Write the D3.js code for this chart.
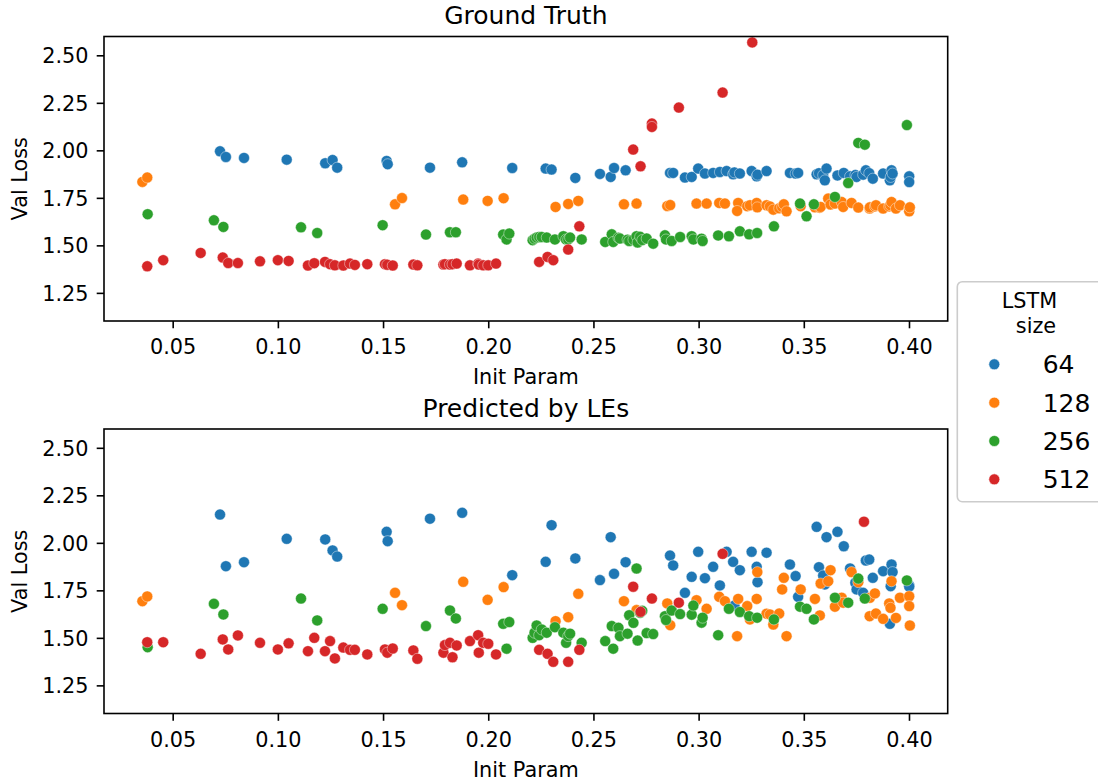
<!DOCTYPE html>
<html>
<head>
<meta charset="utf-8">
<script src="https://cdn.jsdelivr.net/npm/d3@7"></script>
<style>
  html, body { margin: 0; padding: 0; background: #ffffff; }
  svg { display: block; font-family: "DejaVu Sans", sans-serif; }
</style>
</head>
<body>
<svg id="chart" width="1098" height="780"></svg>
<script>
// ---- data: validation loss per run, ground truth vs. predicted, by LSTM size ----
const lstmSizes = ["64", "128", "256", "512"];
const xTicks = [0.05, 0.10, 0.15, 0.20, 0.25, 0.30, 0.35, 0.40];
const yTicks = [1.25, 1.50, 1.75, 2.00, 2.25, 2.50];

// LSTM size 64
const initParam64 = [0.0725,0.0753,0.0839,0.1042,0.1225,0.1260,0.1282,0.1517,0.1522,0.1723,0.1876,0.2114,0.2273,0.2301,0.2414,0.2531,0.2582,0.2598,0.2653,0.2864,0.2879,0.2935,0.2967,0.2998,0.3030,0.3069,0.3101,0.3133,0.3164,0.3170,0.3196,0.3252,0.3276,0.3280,0.3323,0.3434,0.3461,0.3473,0.3561,0.3572,0.3592,0.3600,0.3608,0.3660,0.3690,0.3720,0.3745,0.3751,0.3782,0.3795,0.3811,0.3828,0.3877,0.3909,0.3913,0.3917,0.3922,0.4001,0.4001];
const truth64 = [1.995,1.965,1.960,1.951,1.932,1.949,1.909,1.944,1.927,1.909,1.937,1.907,1.904,1.899,1.855,1.876,1.860,1.907,1.895,1.881,1.881,1.857,1.860,1.904,1.878,1.881,1.886,1.891,1.874,1.884,1.878,1.891,1.863,1.872,1.891,1.881,1.878,1.881,1.874,1.880,1.870,1.842,1.904,1.868,1.881,1.863,1.870,1.860,1.872,1.895,1.880,1.851,1.878,1.842,1.860,1.895,1.878,1.863,1.833];
const pred64 = [2.149,1.877,1.898,2.021,2.018,1.960,1.928,2.058,2.009,2.127,2.158,1.830,1.900,2.093,1.918,1.804,2.030,1.837,1.898,1.933,1.881,1.737,1.821,1.953,1.814,1.874,1.776,1.953,1.900,1.670,1.856,1.953,1.874,1.793,1.948,1.886,1.825,1.716,2.084,1.872,1.828,1.781,2.030,2.058,1.982,1.865,1.790,1.755,1.737,1.907,1.912,1.816,1.851,1.574,1.772,1.886,1.846,1.776,1.770];

// LSTM size 128
const initParam128 = [0.0356,0.0379,0.1557,0.1590,0.1881,0.1997,0.2073,0.2320,0.2380,0.2428,0.2645,0.2705,0.2851,0.2865,0.2990,0.3038,0.3098,0.3125,0.3188,0.3183,0.3231,0.3244,0.3276,0.3279,0.3323,0.3339,0.3355,0.3383,0.3397,0.3405,0.3418,0.3485,0.3553,0.3576,0.3580,0.3616,0.3627,0.3648,0.3680,0.3687,0.3727,0.3759,0.3813,0.3814,0.3838,0.3843,0.3877,0.3906,0.3912,0.3917,0.3938,0.3957,0.4001,0.4001,0.4004];
const truth128 = [1.834,1.857,1.716,1.749,1.741,1.734,1.748,1.702,1.718,1.734,1.716,1.720,1.707,1.712,1.720,1.720,1.723,1.720,1.723,1.681,1.706,1.711,1.723,1.700,1.711,1.705,1.688,1.695,1.702,1.716,1.679,1.706,1.700,1.698,1.702,1.746,1.715,1.720,1.728,1.702,1.723,1.699,1.694,1.700,1.705,1.711,1.694,1.705,1.711,1.728,1.694,1.711,1.694,1.679,1.700];
const pred128 = [1.693,1.718,1.737,1.672,1.795,1.700,1.767,1.588,1.609,1.732,1.693,1.646,1.681,1.567,1.698,1.653,1.716,1.693,1.705,1.509,1.667,1.597,1.705,1.846,1.627,1.623,1.570,1.628,1.755,1.816,1.509,1.755,1.705,1.618,1.786,1.798,1.856,1.664,1.711,1.685,1.846,1.793,1.614,1.711,1.734,1.628,1.600,1.681,1.658,1.798,1.605,1.711,1.719,1.667,1.565];

// LSTM size 256
const initParam256 = [0.0381,0.0696,0.0741,0.1110,0.1187,0.1498,0.1704,0.1818,0.1846,0.2071,0.2087,0.2100,0.2211,0.2220,0.2230,0.2242,0.2254,0.2278,0.2317,0.2357,0.2370,0.2380,0.2389,0.2444,0.2556,0.2587,0.2594,0.2619,0.2626,0.2662,0.2670,0.2690,0.2705,0.2710,0.2722,0.2732,0.2753,0.2784,0.2840,0.2845,0.2872,0.2912,0.2967,0.2975,0.3014,0.3019,0.3093,0.3144,0.3196,0.3240,0.3278,0.3358,0.3482,0.3513,0.3548,0.3648,0.3711,0.3759,0.3790,0.3990];
const truth256 = [1.664,1.632,1.597,1.595,1.565,1.606,1.557,1.569,1.569,1.557,1.531,1.562,1.527,1.535,1.541,1.544,1.544,1.541,1.531,1.548,1.531,1.531,1.541,1.531,1.518,1.558,1.518,1.540,1.536,1.530,1.523,1.530,1.548,1.515,1.545,1.528,1.536,1.509,1.553,1.531,1.523,1.544,1.548,1.531,1.535,1.523,1.552,1.548,1.574,1.558,1.565,1.600,1.720,1.653,1.716,1.755,1.828,2.039,2.030,2.133];
const pred256 = [1.451,1.679,1.623,1.707,1.592,1.653,1.562,1.644,1.602,1.574,1.443,1.583,1.500,1.527,1.565,1.514,1.544,1.527,1.556,1.527,1.474,1.509,1.522,1.474,1.483,1.562,1.443,1.553,1.509,1.522,1.619,1.579,1.865,1.486,1.632,1.642,1.525,1.520,1.614,1.594,1.644,1.625,1.622,1.670,1.580,1.606,1.514,1.653,1.636,1.614,1.606,1.597,1.664,1.653,1.597,1.711,1.685,1.812,1.707,1.802];

// LSTM size 512 (null: no visible point in that panel)
const initParam512 = [0.0379,0.0455,0.0633,0.0738,0.0764,0.0810,0.0915,0.1000,0.1051,0.1143,0.1173,0.1224,0.1248,0.1271,0.1311,0.1343,0.1366,0.1425,0.1509,0.1520,0.1546,0.1644,0.1663,0.1787,0.1794,0.1818,0.1830,0.1850,0.1913,0.1952,0.1955,0.1976,0.2000,0.2037,0.2242,0.2282,0.2309,0.2380,0.2433,0.2689,0.2724,0.2778,0.2778,0.2906,0.3114,0.3255,0.3786];
const truth512 = [1.390,1.422,1.460,1.436,1.407,1.407,1.416,1.422,1.418,1.394,1.406,1.413,1.401,1.395,1.394,1.404,1.397,1.401,1.401,1.398,1.394,1.399,1.395,1.399,1.401,1.399,1.401,1.404,1.395,1.404,1.399,1.395,1.395,1.404,1.413,1.439,1.422,1.478,1.600,2.004,1.916,2.141,2.123,2.225,2.304,2.568,null];
const pred512 = [1.477,1.477,1.416,1.492,1.439,1.513,1.474,1.439,1.471,1.430,1.500,1.430,1.483,1.392,1.449,1.437,1.437,1.413,1.439,1.422,1.444,1.434,1.390,1.422,1.462,1.474,1.398,1.460,1.483,1.514,1.422,1.474,1.469,1.413,1.437,1.416,1.374,1.374,1.437,1.769,1.637,1.707,null,1.685,1.942,null,2.111];

// ---- styling / layout ----
const palette = ["#1f77b4", "#ff7f0e", "#2ca02c", "#d62728"];
const series = [
  { x: initParam64,  truth: truth64,  pred: pred64 },
  { x: initParam128, truth: truth128, pred: pred128 },
  { x: initParam256, truth: truth256, pred: pred256 },
  { x: initParam512, truth: truth512, pred: pred512 }
];

const plotLeft = 104, plotWidth = 843.7, plotHeight = 284.5;
const panels = [
  { title: "Ground Truth",     top: 36.5, key: "truth" },
  { title: "Predicted by LEs", top: 429,  key: "pred" }
];

const svg = d3.select("#chart");

const x = d3.scaleLinear().domain([0.01735, 0.4184]).range([plotLeft, plotLeft + plotWidth]);

panels.forEach(panel => {
  const y = d3.scaleLinear().domain([1.102, 2.599]).range([panel.top + plotHeight, panel.top]);
  const g = svg.append("g");

  // points, one layer per LSTM size
  series.forEach((s, i) => {
    const pts = s.x.map((v, j) => ({ x: v, y: s[panel.key][j] })).filter(d => d.y != null);
    g.append("g").selectAll("circle").data(pts).join("circle")
      .attr("cx", d => x(d.x))
      .attr("cy", d => y(d.y))
      .attr("r", 5.5)
      .attr("fill", palette[i])
      .attr("stroke", "#ffffff")
      .attr("stroke-opacity", 0.7)
      .attr("stroke-width", 0.6);
  });

  // frame
  g.append("rect")
    .attr("x", plotLeft).attr("y", panel.top)
    .attr("width", plotWidth).attr("height", plotHeight)
    .attr("fill", "none").attr("stroke", "#000").attr("stroke-width", 1.6);

  // x axis
  const xa = g.append("g")
    .attr("transform", `translate(0,${panel.top + plotHeight})`)
    .call(d3.axisBottom(x).tickValues(xTicks).tickFormat(d3.format(".2f")).tickSize(7.3).tickPadding(11.2));
  xa.select(".domain").remove();
  xa.selectAll(".tick line").attr("stroke", "#000").attr("stroke-width", 1.6);
  xa.selectAll(".tick text").attr("fill", "#000").style("font-size", "20.8px").style("font-family", "DejaVu Sans");

  // y axis
  const ya = g.append("g")
    .attr("transform", `translate(${plotLeft},0)`)
    .call(d3.axisLeft(y).tickValues(yTicks).tickFormat(d3.format(".2f")).tickSize(7.3).tickPadding(8.2));
  ya.select(".domain").remove();
  ya.selectAll(".tick line").attr("stroke", "#000").attr("stroke-width", 1.6);
  ya.selectAll(".tick text").attr("fill", "#000").attr("dy", "0.36em")
    .style("font-size", "20.8px").style("font-family", "DejaVu Sans");

  // titles and axis labels
  g.append("text")
    .attr("x", plotLeft + plotWidth / 2).attr("y", panel.top - 12.5)
    .attr("text-anchor", "middle").style("font-size", "25px").text(panel.title);
  g.append("text")
    .attr("x", plotLeft + plotWidth / 2).attr("y", panel.top + plotHeight + 63)
    .attr("text-anchor", "middle").style("font-size", "20.8px").text("Init Param");
  g.append("text")
    .attr("transform", `translate(26.5,${panel.top + plotHeight / 2}) rotate(-90)`)
    .attr("text-anchor", "middle").style("font-size", "20.8px").text("Val Loss");
});

// legend
const lg = svg.append("g");
lg.append("rect")
  .attr("x", 957.3).attr("y", 281.7).attr("width", 170).attr("height", 220)
  .attr("rx", 5).attr("fill", "#ffffff").attr("fill-opacity", 0.8)
  .attr("stroke", "#cccccc").attr("stroke-width", 1.6);
lg.append("text").attr("x", 1029.5).attr("y", 308.3).attr("text-anchor", "middle")
  .style("font-size", "20.8px").text("LSTM");
lg.append("text").attr("x", 1036).attr("y", 333.3).attr("text-anchor", "middle")
  .style("font-size", "20.8px").text("size");
lstmSizes.forEach((lab, i) => {
  const cy = 364.3 + i * 38.35;
  lg.append("circle").attr("cx", 994.3).attr("cy", cy).attr("r", 5.5)
    .attr("fill", palette[i]).attr("stroke", "#fff").attr("stroke-width", 0.6);
  lg.append("text").attr("x", 1042.7).attr("y", cy).attr("dy", "0.36em")
    .style("font-size", "25px").text(lab);
});
</script>
</body>
</html>
